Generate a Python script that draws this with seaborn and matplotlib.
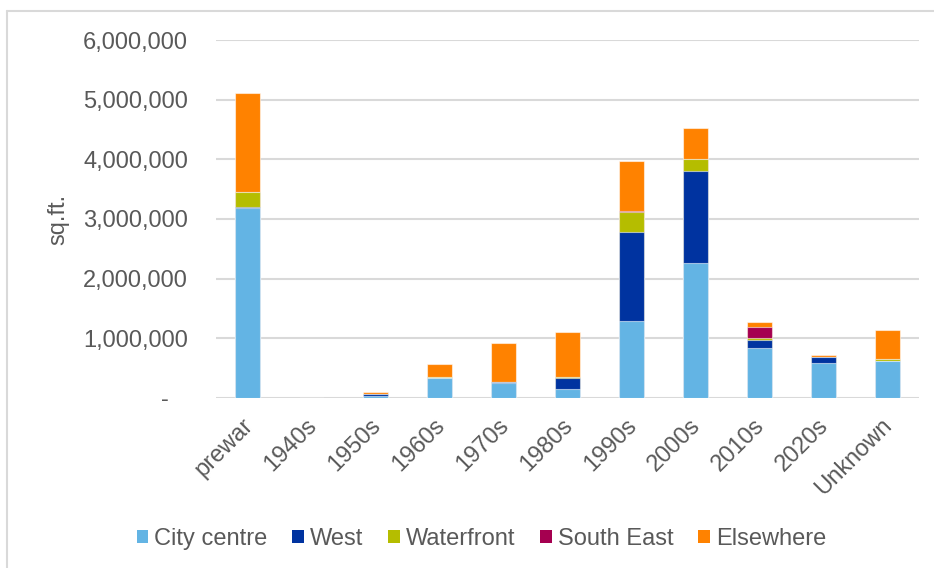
import matplotlib
matplotlib.use("Agg")
import matplotlib.pyplot as plt
import matplotlib.transforms as mtransforms
import seaborn as sns
import numpy as np
import pandas as pd
from matplotlib.patches import Patch
from matplotlib.lines import Line2D
from matplotlib.ticker import FuncFormatter, MultipleLocator

categories = ["prewar", "1940s", "1950s", "1960s", "1970s", "1980s",
              "1990s", "2000s", "2010s", "2020s", "Unknown"]
city_centre = [3180000, 0, 30000, 340000, 255000, 145000, 1285000, 2270000, 830000, 580000, 615000]
west        = [20000,   0, 30000, 0,      20000,  195000, 1490000, 1540000, 150000, 100000, 0]
waterfront  = [245000,  0, 0,     10000,  0,      10000,  335000,  190000,  20000,  0,      35000]
south_east  = [0,       0, 0,     0,      0,      0,      30000,   0,       195000, 15000,  0]
elsewhere   = [1675000, 0, 45000, 215000, 645000, 760000, 825000,  530000,  85000,  20000,  485000]

series_names = ["City centre", "West", "Waterfront", "South East", "Elsewhere"]
series_values = [city_centre, west, waterfront, south_east, elsewhere]
series_colors = ["#63B4E4", "#0033A0", "#B5BD00", "#A50050", "#FF8200"]

sns.set_theme(style="white")
plt.rcParams["font.family"] = ["Liberation Sans", "DejaVu Sans"]
TXT = "#595959"
FS = 17

fig = plt.figure(figsize=(9.34, 5.68), dpi=100)
ax = fig.add_axes([216/934, 1-398/568, (919-216)/934, (398-40)/568])

# cumulative stacks, drawn from top layer down so each overlays the previous
cum = np.cumsum(np.array(series_values, dtype=float), axis=0)
for i in range(len(series_names) - 1, -1, -1):
    df = pd.DataFrame({"cat": categories, "val": cum[i]})
    sns.barplot(data=df, x="cat", y="val", order=categories, color=series_colors[i],
                width=0.39, saturation=1, edgecolor=(1, 1, 1, 0.55), linewidth=0.8,
                ax=ax, zorder=3)

ax.set_ylim(0, 6000000)
ax.set_xlim(-0.5, len(categories) - 0.5)
ax.yaxis.set_major_locator(MultipleLocator(1000000))
ax.yaxis.set_major_formatter(FuncFormatter(lambda v, p: "-   " if v == 0 else f"{v:,.0f}"))
ax.grid(axis="y", color="#D9D9D9", linewidth=1.5, zorder=0)
ax.grid(axis="x", visible=False)
for s in ax.spines.values():
    s.set_visible(False)

ax.tick_params(axis="y", length=0, pad=20, labelsize=FS, labelcolor=TXT)
ax.tick_params(axis="x", length=0, pad=4, labelsize=FS, labelcolor=TXT)
ax.set_xlabel("")
ax.set_ylabel("sq.ft.", fontsize=FS, color=TXT, labelpad=10)
offset = mtransforms.ScaledTranslation(-6/100, -11/100, fig.dpi_scale_trans)
for lab in ax.get_xticklabels():
    lab.set_rotation(45)
    lab.set_ha("right")
    lab.set_va("top")
    lab.set_rotation_mode("anchor")
    lab.set_transform(lab.get_transform() + offset)

handles = [Patch(facecolor=c, edgecolor="none", label=n) for n, c in zip(series_names, series_colors)]
fig.legend(handles=handles, loc="center", bbox_to_anchor=(481.5/934, 1-539/568), ncol=5,
           frameon=False, fontsize=FS, labelcolor=TXT, handlelength=0.5, handleheight=0.5,
           handletextpad=0.25, columnspacing=1.05)

# frame lines of the chart area
fig.add_artist(Line2D([7/934, 7/934], [0, 1-11/568], color="#D9D9D9", linewidth=1.5))
fig.add_artist(Line2D([7/934, 1], [1-11/568, 1-11/568], color="#D9D9D9", linewidth=1.5))

fig.savefig("out.png", dpi=100)
